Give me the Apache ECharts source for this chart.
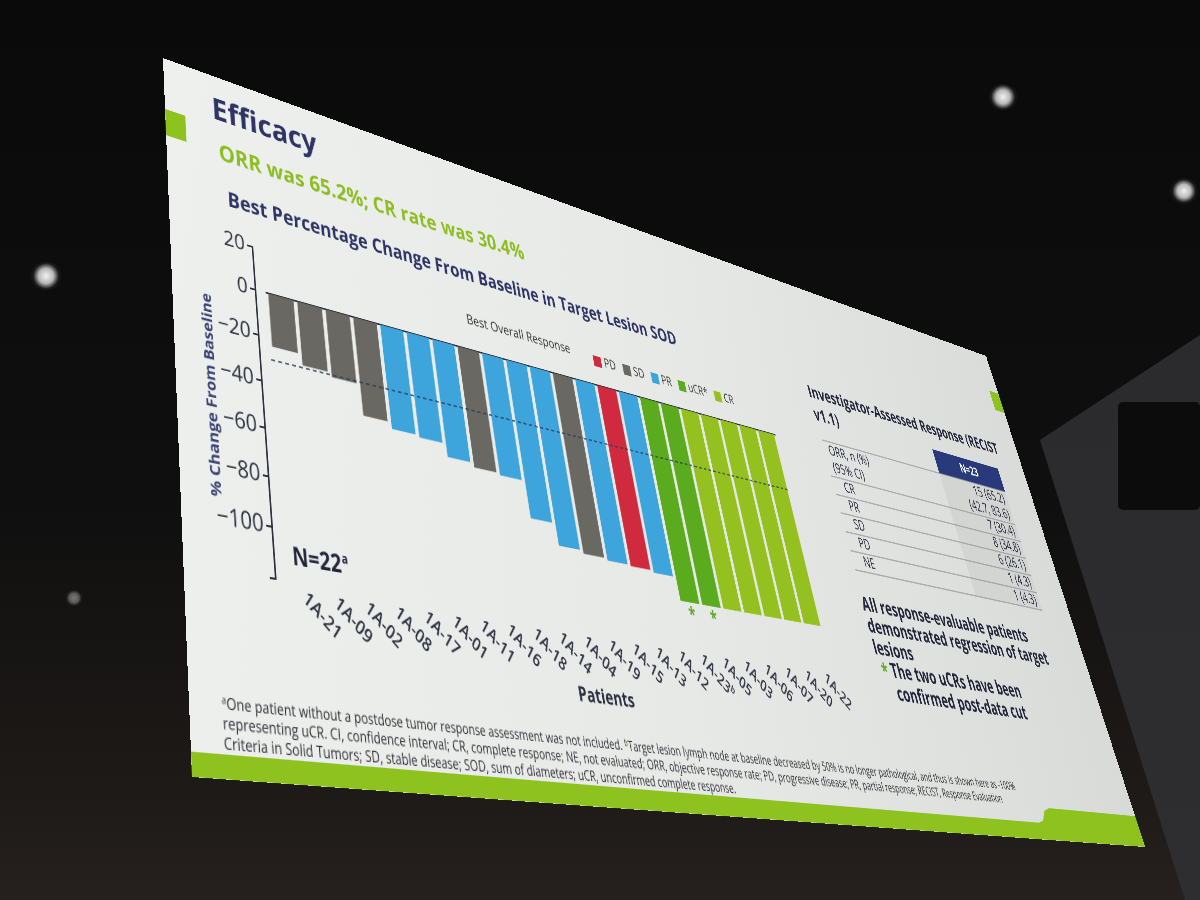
<!DOCTYPE html>
<html>
<head>
<meta charset="utf-8">
<script src="https://cdn.jsdelivr.net/npm/echarts@6/dist/echarts.min.js"></script>
<style>
html,body{margin:0;padding:0;width:1200px;height:900px;overflow:hidden;background:#111;}
#bg{position:absolute;left:0;top:0;width:1200px;height:900px;background:linear-gradient(180deg,#0a0a0a 0%,#0f0f0f 55%,#1e1a18 88%,#26211f 100%);}
#wall{position:absolute;left:0;top:0;width:1200px;height:900px;background:linear-gradient(180deg,#29292b 0%,#2e2e31 100%);clip-path:polygon(1040px 440px,1200px 335px,1200px 900px,1185px 900px);}
#spk{position:absolute;left:1118px;top:402px;width:82px;height:108px;background:#0c0c0c;border-radius:5px;}
.light{position:absolute;border-radius:50%;background:radial-gradient(circle,#f2f2f2 0%,#b8b8b8 35%,rgba(60,60,60,0.3) 60%,rgba(20,20,20,0) 76%);}
#slide{position:absolute;left:0;top:0;width:1600px;height:720px;transform-origin:0 0;background:linear-gradient(100deg,#eef0ed 0%,#e7e9e6 45%,#d8dad7 100%);}
#chart{position:absolute;left:0;top:0;width:1600px;height:720px;}
</style>
</head>
<body>
<div id="bg"></div>
<div id="wall"></div>
<div id="spk"></div>
<div class="light" style="left:30px;top:262px;width:32px;height:28px"></div>
<div class="light" style="left:988px;top:84px;width:30px;height:26px"></div>
<div class="light" style="left:1170px;top:178px;width:28px;height:26px"></div>
<div class="light" style="left:64px;top:590px;width:20px;height:16px;opacity:0.45"></div>
<div id="slide"><div id="chart"></div></div>
<script>
// ---------------- data ----------------
const patients = ['1A-21','1A-09','1A-02','1A-08','1A-17','1A-01','1A-11','1A-16','1A-18','1A-14','1A-04',
                  '1A-19','1A-15','1A-13','1A-12','1A-23','1A-05','1A-03','1A-06','1A-07','1A-20','1A-22'];
const patientNotes = ['','','','','','','','','','','','','','','','b','','','','','',''];
const bestChange = [-24,-29,-31,-45,-48,-49,-55,-57,-58,-75,-85,-86.5,-87.5,-88,-89,-100,-100,-100,-100,-100,-100,-100];
const bestResponse = ['SD','SD','SD','SD','PR','PR','PR','SD','PR','PR','PR','SD','PR','PD','PR','uCR','uCR','CR','CR','CR','CR','CR'];
const responseCodes = ['PD','SD','PR','uCR','CR'];
const responseLabels = ['PD','SD','PR','uCR*','CR'];
const referenceLine = -30;
const yMin = -120, yMax = 20, yStep = 20;

const slideTitle = 'Efficacy';
const slideSubtitle = 'ORR was 65.2%; CR rate was 30.4%';
const chartTitle = 'Best Percentage Change From Baseline in Target Lesion SOD';
const yAxisTitle = '% Change From Baseline';
const xAxisTitle = 'Patients';
const legendTitle = 'Best Overall Response';
const sampleSize = 'N=22';
const tableTitle = ['Investigator-Assessed Response (RECIST', 'v1.1)'];
const tableHeader = 'N=23';
const tableRowLabels = [['ORR, n (%)','(95% CI)'],['CR'],['PR'],['SD'],['PD'],['NE']];
const tableRowValues = [['15 (65.2)','(42.7, 83.6)'],['7 (30.4)'],['8 (34.8)'],['6 (26.1)'],['1 (4.3)'],['1 (4.3)']];
const keyPoint = ['All response-evaluable patients','demonstrated regression of target','lesions'];
const uCRNote = ['The two uCRs have been','confirmed post-data cut'];
const footnotes = [
  '{s|a}One patient without a postdose tumor response assessment was not included. {s|b}Target lesion lymph node at baseline decreased by 50% is no longer pathological, and thus is shown here as -100%',
  'representing uCR. CI, confidence interval; CR, complete response; NE, not evaluated; ORR, objective response rate; PD, progressive disease; PR, partial response; RECIST, Response Evaluation',
  'Criteria in Solid Tumors; SD, stable disease; SOD, sum of diameters; uCR, unconfirmed complete response.'
];

// ---------------- perspective of the photographed slide ----------------
const W = 1600, H = 720;
function homography(P){
  const [x0,y0]=P[0],[x1,y1]=P[1],[x2,y2]=P[2],[x3,y3]=P[3];
  const dx1=x1-x2, dx2=x3-x2, dy1=y1-y2, dy2=y3-y2;
  const sx=x0-x1+x2-x3, sy=y0-y1+y2-y3;
  const den=dx1*dy2-dy1*dx2;
  const g=(sx*dy2-sy*dx2)/den, h=(dx1*sy-dy1*sx)/den;
  const a=x1-x0+g*x1, b=x3-x0+h*x3, c=x0;
  const d=y1-y0+g*y1, e=y3-y0+h*y3, f=y0;
  return [a/W, d/W, 0, g/W, b/H, e/H, 0, h/H, 0,0,1,0, c,f,0,1];
}
document.getElementById('slide').style.transform =
  'matrix3d(' + homography([[163,58],[986,356],[1145,847],[192,777]]).join(',') + ')';

// ---------------- styles ----------------
const FONT = '"Open Sans", "Noto Sans", sans-serif';
const NAVY = '#2e3566';
const INK = '#23263a';
const colors = {PD:'#d02a3e', SD:'#6a6862', PR:'#3ea5dc', uCR:'#5aab1e', CR:'#94c11f'};

const chart = echarts.init(document.getElementById('chart'), null, {renderer:'canvas', width:W, height:H, devicePixelRatio:2});

const series = responseCodes.map((code, k) => {
  const s = {
    name: responseLabels[k],
    type: 'bar',
    stack: 'all',
    barCategoryGap: '13%',
    itemStyle: {color: colors[code]},
    data: bestChange.map((v, i) => bestResponse[i] === code ? v : null)
  };
  if (code === 'uCR') {
    s.label = {show: true, position: 'bottom', distance: 4, formatter: '*', color: '#5aab1e',
               fontSize: 22, fontWeight: 'bold', fontFamily: FONT};
  }
  if (code === 'SD') {
    s.markLine = {silent: true, symbol: 'none', label: {show: false},
      lineStyle: {type: [5, 4], color: '#2f3a58', width: 1.5}, data: [{yAxis: referenceLine}]};
  }
  return s;
});

const graphics = [];
const txt = (x, y, text, o, extra) => graphics.push(Object.assign({type: 'text', x, y, silent: true,
  style: Object.assign({text, fill: INK, fontFamily: FONT, fontSize: 17, align: 'left', verticalAlign: 'middle'}, o || {})}, extra || {}));
// decorative squares
graphics.push({type: 'rect', shape: {x: 0, y: 64, width: 26, height: 32}, style: {fill: '#8dc21f'}});
graphics.push({type: 'rect', shape: {x: 1574, y: 64, width: 26, height: 32}, style: {fill: '#8dc21f'}});
// bottom band
graphics.push({type: 'polygon', shape: {points: [[0,700],[1340,700],[1352,697],[1362,685],[1376,681],[1600,681],[1600,720],[0,720]]}, style: {fill: '#8dc21f'}});
// headings
txt(62, 44, slideTitle, {fontSize: 38, fontWeight: 'bold', fill: NAVY});
txt(68, 97, slideSubtitle, {fontSize: 27, fontWeight: 'bold', fill: '#8cbd22'});
txt(76, 151, chartTitle, {fontSize: 24, fontWeight: 'bold', fill: NAVY});
txt(411, 210, legendTitle, {fontSize: 16.5, fill: '#333'});
txt(127, 519, sampleSize + '{s|a}', {fontSize: 24, fontWeight: 'bold', fill: INK,
    rich: {s: {fontSize: 13, fontWeight: 'bold', fill: INK, fontFamily: FONT, padding: [0, 0, 12, 1]}}});
txt(42, 370, yAxisTitle, {fontSize: 17, fontWeight: 'bold', fill: '#3a4272', align: 'center'}, {rotation: Math.PI / 2});
// table
txt(1066, 167, tableTitle[0], {fontSize: 24, fontWeight: 'bold'});
txt(1066, 200, tableTitle[1], {fontSize: 24, fontWeight: 'bold'});
graphics.push({type: 'rect', shape: {x: 1349, y: 199, width: 174, height: 36}, style: {fill: '#283a7c'}});
graphics.push({type: 'rect', shape: {x: 1349, y: 235, width: 174, height: 175}, style: {fill: '#d3d5d2'}});
txt(1436, 217, tableHeader, {fontSize: 19, fontWeight: 'bold', fill: '#ffffff', align: 'center'});
let yLine = 235;
const lines = [yLine];
tableRowLabels.forEach((labels, r) => {
  const rowH = labels.length === 2 ? 50 : 25;
  labels.forEach((lab, j) => {
    const cy = yLine + (labels.length === 2 ? 13.5 + j * 24 : 12.5);
    txt(r === 0 ? 1079 : 1093, cy, lab, {fontSize: 19});
    txt(1514, cy, tableRowValues[r][j], {fontSize: 21, align: 'right'});
  });
  yLine += rowH;
  lines.push(yLine);
});
lines.forEach(ly => graphics.push({type: 'line', shape: {x1: 1069, y1: ly, x2: 1523, y2: ly}, style: {stroke: '#8c8e8c', lineWidth: 1.2}}));
keyPoint.forEach((t, i) => txt(1064, 455 + i * 27, t, {fontSize: 25, fontWeight: 'bold'}));
txt(1070, 537, '*', {fontSize: 25, fontWeight: 'bold', fill: '#5aab1e'});
uCRNote.forEach((t, i) => txt(1090, 535 + i * 28, t, {fontSize: 25, fontWeight: 'bold'}));
footnotes.forEach((t, i) => txt(35, 659 + i * 16.5, t, {fontSize: 14, fill: '#2e3038',
  rich: {s: {fontSize: 9, fill: '#2e3038', fontFamily: FONT, padding: [0, 0, 6, 0]}}}));

const option = {
  animation: false,
  textStyle: {fontFamily: FONT},
  grid: {left: 119, top: 198, width: 844, height: 344, containLabel: false},
  legend: {
    data: responseLabels, left: 617, top: 202, itemWidth: 14, itemHeight: 14, itemGap: 13,
    icon: 'rect', selectedMode: false,
    textStyle: {fontSize: 16, color: '#333', fontFamily: FONT, width: 40}
  },
  xAxis: {
    type: 'category', data: patients,
    axisLine: {lineStyle: {color: '#2c3040', width: 2}},
    axisTick: {show: false},
    axisLabel: {
      interval: 0, rotate: -40, margin: 12, fontSize: 19, fontWeight: 600, color: '#2c3040', fontFamily: FONT,
      formatter: (v, i) => patientNotes[i] ? v + '{s|' + patientNotes[i] + '}' : v,
      rich: {s: {fontSize: 12, fontWeight: 600, color: '#2c3040', padding: [0, 0, 9, 0]}}
    },
    name: xAxisTitle, nameLocation: 'middle', nameGap: 60,
    nameTextStyle: {fontSize: 21, fontWeight: 'bold', color: '#2c3040', fontFamily: FONT}
  },
  yAxis: {
    type: 'value', min: yMin, max: yMax, interval: yStep, offset: 14,
    axisLine: {show: true, lineStyle: {color: '#2c3040', width: 2}},
    axisTick: {show: true, length: 7, lineStyle: {color: '#2c3040', width: 2}},
    splitLine: {show: false},
    axisLabel: {fontSize: 24, color: '#2c3040', margin: 10, fontFamily: FONT,
      formatter: v => v === yMin ? '' : (v < 0 ? '\u2212' + (-v) : String(v))}
  },
  graphic: graphics,
  series: series
};
chart.setOption(option);
</script>
</body>
</html>
